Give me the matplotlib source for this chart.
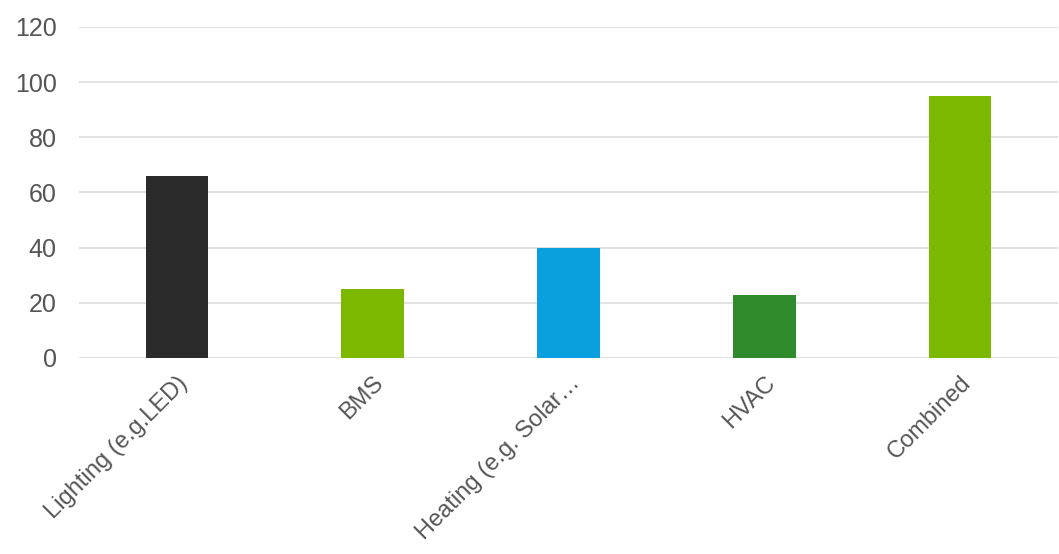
import matplotlib.pyplot as plt

categories = ["Lighting (e.g.LED)", "BMS", "Heating (e.g. Solar\u2026", "HVAC", "Combined"]
values = [66, 25, 40, 23, 95]
bar_colors = ["#2b2b2b", "#7db800", "#0aa0e0", "#2f8a2c", "#7db800"]
y_ticks = [0, 20, 40, 60, 80, 100, 120]

plt.rcParams['font.family'] = ['Liberation Sans', 'DejaVu Sans']

fig = plt.figure(figsize=(10.59, 5.54), dpi=100)
ax = fig.add_axes([0.0746, 0.3538, 0.9245, 0.5975])

x = range(len(categories))
ax.bar(x, values, width=0.32, color=bar_colors, zorder=3)

ax.set_xlim(-0.5, 4.5)
ax.set_ylim(0, 120)
ax.set_yticks(y_ticks)
ax.set_xticks(list(x))
ax.set_xticklabels(categories, rotation=45, ha='right', va='top', rotation_mode='anchor')

ax.grid(axis='y', color='#dddddd', linewidth=1.2, zorder=0)
for s in ax.spines.values():
    s.set_visible(False)
ax.tick_params(axis='y', length=0, labelsize=18, colors='#555555', pad=16)
ax.tick_params(axis='x', length=0, labelsize=17, colors='#555555', pad=10)
ax.set_axisbelow(True)

fig.savefig("out.png", dpi=100)
